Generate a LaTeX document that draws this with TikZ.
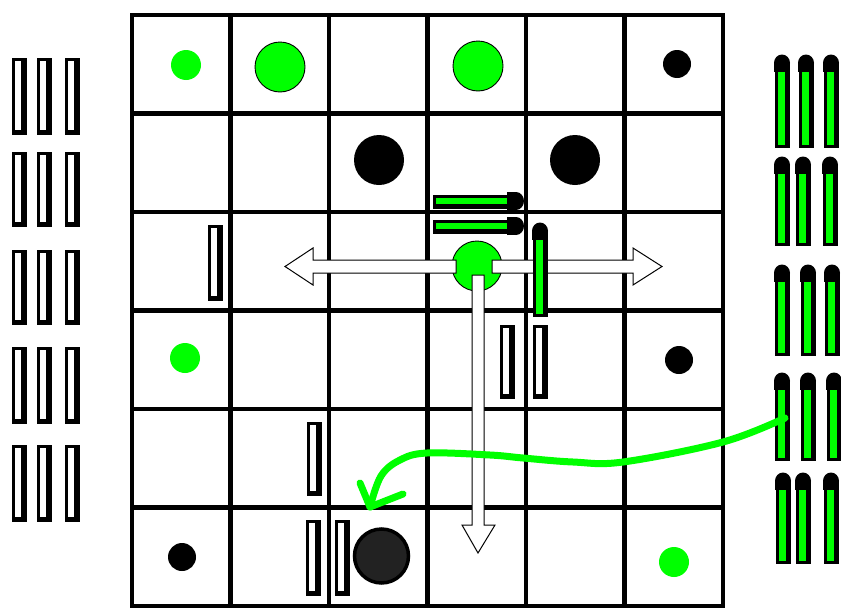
\documentclass[tikz,border=0pt]{standalone}
\definecolor{brightgreen}{HTML}{00FF00}
\definecolor{darkpiece}{HTML}{222222}
\newcommand\wbar[3]{%
  \fill[black] (#1-7,#2) rectangle (#1+8,#3+2);
  \fill[white] (#1-4.5,#2+2.5) rectangle (#1+2,#3-3);}
\newcommand\gbarv[3]{%
  \fill[black] (#1-7,#2+9) rectangle (#1+8,#3+1);
  \fill[brightgreen] (#1-4,#2+17) rectangle (#1+3,#3-2);
  \fill[black] (#1,#2+8) ellipse [x radius=8, y radius=8.5];
  \fill[black] (#1-8,#2+8) rectangle (#1+8,#2+17);}
\newcommand\gbarh[3]{%
  \fill[black] (#1,#3-6.5) rectangle (#2-8,#3+7.5);
  \fill[brightgreen] (#1+3,#3-3) rectangle (#2-16,#3+3);
  \fill[black] (#2-8,#3) ellipse [x radius=8, y radius=9];
  \fill[black] (#2-17,#3-9) rectangle (#2-8,#3+9);}
\tikzset{
  gridline/.style={line width=4.5pt, line cap=rect},
  smalldot/.style={circle, minimum size=30pt, inner sep=0pt},
  bigpiece/.style={circle, fill=brightgreen, draw=black, line width=0.9pt, minimum size=50pt, inner sep=0pt},
  blackpiece/.style={circle, fill=black, minimum size=50pt, inner sep=0pt},
  movearrow/.style={fill=white, draw=black, line width=1pt, line join=miter},
  curvearrow/.style={draw=brightgreen, line width=7pt, line cap=round, line join=round}
}
\begin{document}
\begin{tikzpicture}[x=1pt,y=-1pt]
\useasboundingbox (0,0) rectangle (841,608);
\fill[white] (0,0) rectangle (841,608);
% board grid
\foreach \i in {0,...,6} {
  \draw[gridline] ({132+\i*98.5},15) -- ({132+\i*98.5},606);
  \draw[gridline] (132,{15+\i*98.5}) -- (723,{15+\i*98.5});
}
% spare walls on the left
\foreach \yt/\yb in {58/133,152/225,250/323,347/422,445/520} {
  \foreach \x in {19,44,72} { \wbar{\x}{\yt}{\yb} }
}
% walls on the board
\wbar{215}{225}{299}
\wbar{314}{422}{494}
\wbar{313}{520}{594}
\wbar{342}{520}{594}
\wbar{507}{325}{397}
\wbar{540}{325}{397}
% pieces
\node[smalldot, fill=brightgreen] (g1) at (186,65) {};
\node[bigpiece] (g2) at (280,67) {};
\node[bigpiece] (g3) at (478,66) {};
\node[smalldot, fill=black, minimum size=28pt] (b1) at (677,64) {};
\node[blackpiece] (b2) at (379,160) {};
\node[blackpiece] (b3) at (575,160) {};
\node[smalldot, fill=brightgreen] (g4) at (185,358) {};
\node[smalldot, fill=black, minimum size=28pt] (b4) at (679,360) {};
\node[smalldot, fill=black, minimum size=28pt] (b5) at (182,557) {};
\node[smalldot, fill=brightgreen] (g5) at (674,562) {};
\node[circle, fill=darkpiece, draw=black, line width=3.5pt, minimum size=54pt, inner sep=0pt] (dk) at (381.5,556) {};
\node[bigpiece] (cp) at (477,266) {};
% move arrows
\draw[movearrow] (456,260) -- (313,260) -- (313,248) -- (285,266.5) -- (313,285) -- (313,273) -- (456,273) -- cycle;
\draw[movearrow] (492,260) -- (633,260) -- (633,248) -- (662,266.5) -- (633,285) -- (633,273) -- (492,273) -- cycle;
\draw[movearrow] (472,275) -- (472,525) -- (462,525) -- (478,553) -- (495,525) -- (484,525) -- (484,275) -- cycle;
% green walls on the board
\gbarh{433}{524}{201}
\gbarh{433}{524}{226}
\gbarv{540}{223}{316}
% spare green walls on the right
\foreach \yt/\yb/\xa/\xb/\xc in {55/147/782/806/831,157/245/782/803/830,265/355/782/808/832,373/460/782/808/834,473/563/783/803/831} {
  \gbarv{\xa}{\yt}{\yb}
  \gbarv{\xb}{\yt}{\yb}
  \gbarv{\xc}{\yt}{\yb}
}
% green curved arrow
\coordinate (cs) at (785,418);
\coordinate (ce) at (370,507);
\draw[curvearrow] plot[smooth, tension=0.6] coordinates {(cs) (723,442) (623,462) (573,462) (523,458) (490,455) (427,453) (400,460) (381,476) (ce)};
\draw[curvearrow] (360,483) -- (ce) -- (403,494);
\end{tikzpicture}
\end{document}
